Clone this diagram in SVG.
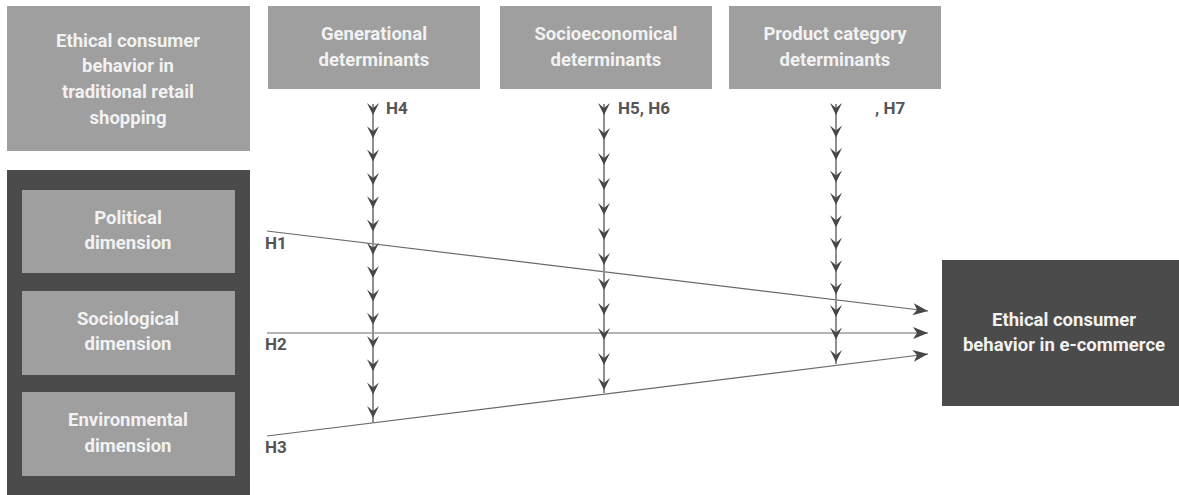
<svg xmlns="http://www.w3.org/2000/svg" xmlns:xlink="http://www.w3.org/1999/xlink" width="1179" height="495" viewBox="0 0 1179 495">
<style>
.light{fill:#9f9f9f;}
.dark{fill:#4b4b4b;}
.bt{font-family:Roboto,"Liberation Sans",sans-serif;font-weight:bold;font-size:18.5px;fill:#f2f2f2;text-anchor:middle;dominant-baseline:central;}
.hl{font-family:Roboto,"Liberation Sans",sans-serif;font-weight:bold;font-size:17px;fill:#555555;dominant-baseline:central;}
.conn{stroke:#6a6a6a;stroke-width:1.2;fill:none;}
.vline{stroke:#8f8f8f;stroke-width:2;fill:none;}
.ah{fill:#474747;}
</style>
<defs>
<path id="vh" class="ah" d="M0,0 L-6,-12 L0,-7 L6,-12 Z"/>
<marker id="arr" markerUnits="userSpaceOnUse" markerWidth="16" markerHeight="12" refX="15" refY="6" orient="auto" viewBox="0 0 16 12">
<path class="ah" d="M0,0 L15,6 L0,12 L4,6 Z"/>
</marker>
</defs>

<g id="traditional">
<rect class="light" x="7" y="6" width="243" height="145"/>
<text class="bt" x="128" y="41">Ethical consumer</text>
<text class="bt" x="128" y="66">behavior in</text>
<text class="bt" x="128" y="92">traditional retail</text>
<text class="bt" x="128" y="118">shopping</text>
</g>

<g id="generational">
<rect class="light" x="268" y="6" width="212" height="83"/>
<text class="bt" x="374" y="34">Generational</text>
<text class="bt" x="374" y="60">determinants</text>
</g>

<g id="socioeconomical">
<rect class="light" x="500" y="6" width="212" height="83"/>
<text class="bt" x="606" y="34">Socioeconomical</text>
<text class="bt" x="606" y="60">determinants</text>
</g>

<g id="product">
<rect class="light" x="729" y="6" width="212" height="83"/>
<text class="bt" x="835" y="34">Product category</text>
<text class="bt" x="835" y="60">determinants</text>
</g>

<g id="dimensions">
<rect class="dark" x="7" y="170" width="243" height="330"/>
</g>
<g id="political">
<rect class="light" x="22" y="190" width="213" height="83"/>
<text class="bt" x="128" y="218">Political</text>
<text class="bt" x="128" y="243">dimension</text>
</g>
<g id="sociological">
<rect class="light" x="22" y="291" width="213" height="84"/>
<text class="bt" x="128" y="319">Sociological</text>
<text class="bt" x="128" y="344">dimension</text>
</g>
<g id="environmental">
<rect class="light" x="22" y="392" width="213" height="84"/>
<text class="bt" x="128" y="420">Environmental</text>
<text class="bt" x="128" y="446">dimension</text>
</g>

<g id="ecommerce">
<rect class="dark" x="942" y="260" width="237" height="146"/>
<text class="bt" x="1064" y="320">Ethical consumer</text>
<text class="bt" x="1064" y="345">behavior in e-commerce</text>
</g>

<g id="connectors">
<line class="conn" x1="267" y1="231" x2="928" y2="311" marker-end="url(#arr)"/>
<line class="conn" x1="267" y1="333" x2="928" y2="333" marker-end="url(#arr)"/>
<line class="conn" x1="267" y1="436" x2="928" y2="354" marker-end="url(#arr)"/>

<line class="vline" x1="373" y1="104" x2="373" y2="423"/>
<use href="#vh" x="373" y="115"/><use href="#vh" x="373" y="138.3"/><use href="#vh" x="373" y="161.6"/><use href="#vh" x="373" y="184.9"/><use href="#vh" x="373" y="208.2"/><use href="#vh" x="373" y="231.5"/><use href="#vh" x="373" y="254.8"/><use href="#vh" x="373" y="278.1"/><use href="#vh" x="373" y="301.4"/><use href="#vh" x="373" y="324.7"/><use href="#vh" x="373" y="348"/><use href="#vh" x="373" y="371.3"/><use href="#vh" x="373" y="394.6"/><use href="#vh" x="373" y="417.9"/>

<line class="vline" x1="604" y1="104" x2="604" y2="393"/>
<use href="#vh" x="604" y="115"/><use href="#vh" x="604" y="140"/><use href="#vh" x="604" y="165"/><use href="#vh" x="604" y="190"/><use href="#vh" x="604" y="215"/><use href="#vh" x="604" y="240"/><use href="#vh" x="604" y="265"/><use href="#vh" x="604" y="290"/><use href="#vh" x="604" y="315"/><use href="#vh" x="604" y="340"/><use href="#vh" x="604" y="365"/><use href="#vh" x="604" y="390"/>

<line class="vline" x1="836" y1="104" x2="836" y2="364"/>
<use href="#vh" x="836" y="115"/><use href="#vh" x="836" y="137.5"/><use href="#vh" x="836" y="159.9"/><use href="#vh" x="836" y="182.4"/><use href="#vh" x="836" y="204.8"/><use href="#vh" x="836" y="227.3"/><use href="#vh" x="836" y="249.7"/><use href="#vh" x="836" y="272.2"/><use href="#vh" x="836" y="294.6"/><use href="#vh" x="836" y="317.1"/><use href="#vh" x="836" y="339.5"/><use href="#vh" x="836" y="362"/>

<text class="hl" x="265" y="243">H1</text>
<text class="hl" x="265" y="344">H2</text>
<text class="hl" x="265" y="447">H3</text>
<text class="hl" x="386" y="108">H4</text>
<text class="hl" x="618" y="108">H5, H6</text>
<text class="hl" x="875" y="108">, H7</text>
</g>
</svg>
